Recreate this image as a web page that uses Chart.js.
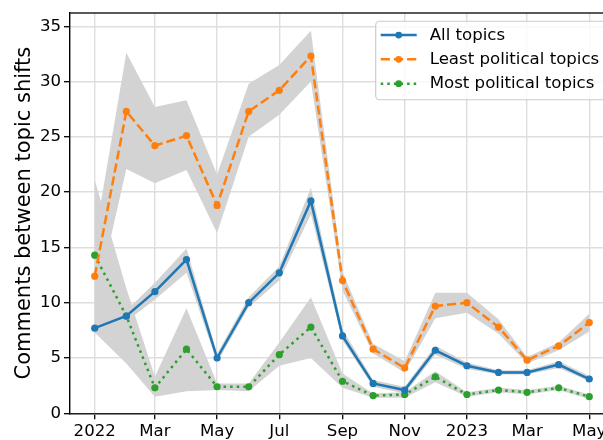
<!DOCTYPE html>
<html>
<head>
<meta charset="utf-8">
<script src="https://cdn.jsdelivr.net/npm/chart.js@4/dist/chart.umd.min.js"></script>
<style>
  html, body { margin: 0; padding: 0; background: #fff; overflow: hidden; }
  /* plot runs past the right edge, like the original figure */
  #wrap { position: relative; width: 618px; height: 440px; }
</style>
</head>
<body>
<div id="wrap"><canvas id="chart"></canvas></div>
<script>
// Months (first day of each month)
const months = ['2022-01', '2022-02', '2022-03', '2022-04', '2022-05', '2022-06', '2022-07', '2022-08',
    '2022-09', '2022-10', '2022-11', '2022-12', '2023-01', '2023-02', '2023-03', '2023-04', '2023-05'];

// Tick labels
const xTickMonths = ['2022-01', '2022-03', '2022-05', '2022-07', '2022-09', '2022-11', '2023-01', '2023-03', '2023-05'];
const xTickLabels = ['2022', 'Mar', 'May', 'Jul', 'Sep', 'Nov', '2023', 'Mar', 'May'];
const yTicks = [0, 5, 10, 15, 20, 25, 30, 35];

// Series names
const seriesNames = ['All topics', 'Least political topics', 'Most political topics'];

// All topics
const allTopics = [7.7, 8.8, 11.0, 13.9, 5.0, 10.0, 12.7, 19.2, 7.0, 2.7, 2.1, 5.7, 4.3, 3.7, 3.7, 4.4, 3.1];
const allLow = [7.2, 8.3, 10.3, 12.7, 4.6, 9.6, 12.0, 18.0, 6.6, 2.4, 1.8, 5.3, 4.0, 3.5, 3.5, 4.1, 2.9];
const allHigh = [8.2, 9.3, 11.8, 14.9, 5.4, 10.5, 13.3, 20.4, 7.6, 3.0, 2.4, 6.1, 4.6, 3.9, 3.9, 4.7, 3.4];

// Least political topics
const leastTopics = [12.4, 27.3, 24.2, 25.1, 18.8, 27.3, 29.2, 32.3, 12.0, 5.8, 4.1, 9.7, 10.0, 7.8, 4.8, 6.1, 8.2];
const leastLow = [9.5, 22.1, 20.8, 22.0, 16.3, 25.0, 27.0, 30.0, 11.1, 5.4, 3.7, 8.6, 9.1, 7.2, 4.5, 5.7, 7.4];
const leastHigh = [15.8, 32.6, 27.7, 28.3, 21.6, 29.8, 31.5, 34.6, 12.8, 6.3, 4.7, 10.9, 10.9, 8.5, 5.1, 6.4, 9.0];

// Most political topics
const mostTopics = [14.3, 8.8, 2.3, 5.8, 2.4, 2.4, 5.3, 7.8, 2.9, 1.6, 1.7, 3.3, 1.7, 2.1, 1.9, 2.3, 1.5];
const mostLow = [7.3, 4.5, 1.5, 2.0, 2.1, 2.0, 4.3, 5.0, 2.3, 1.4, 1.4, 2.8, 1.5, 1.9, 1.7, 2.1, 1.3];
const mostHigh = [21.1, 11.3, 3.3, 9.5, 2.7, 2.7, 6.4, 10.5, 3.6, 1.8, 1.9, 3.8, 1.9, 2.3, 2.1, 2.5, 1.7];

// Days since 2022-01-01, so months sit on a real time axis
function dayOf(m) {
    const [y, mo] = m.split('-').map(Number);
    return (Date.UTC(y, mo - 1, 1) - Date.UTC(2022, 0, 1)) / 86400000;
}
const xs = months.map(dayOf);
const xTickDays = xTickMonths.map(dayOf);
const pts = vals => vals.map((v, i) => ({ x: xs[i], y: v }));

const BAND = '#d3d3d3';
const FONT = 'DejaVu Sans';

function lineSet(label, vals, color, dash, order) {
    return {
        label: label,
        data: pts(vals),
        borderColor: color,
        backgroundColor: color,
        borderWidth: 2.5,
        borderDash: dash,
        pointRadius: 3.6,
        pointBorderWidth: 0,
        pointBackgroundColor: color,
        fill: false,
        order: order
    };
}

function bandSet(vals, fill) {
    return {
        label: '',
        data: pts(vals),
        borderWidth: 0,
        borderColor: 'rgba(0,0,0,0)',
        backgroundColor: BAND,
        pointRadius: 0,
        fill: fill,
        order: 5
    };
}

// Top spine and legend box
const frameAndLegend = {
    id: 'frameAndLegend',
    afterDraw(chart) {
        const { ctx, chartArea } = chart;
        ctx.save();
        // top spine
        ctx.beginPath();
        ctx.moveTo(chartArea.left, chartArea.top);
        ctx.lineTo(chartArea.right, chartArea.top);
        ctx.strokeStyle = '#222';
        ctx.lineWidth = 1.4;
        ctx.stroke();

        // legend
        const right = chartArea.right - 8.3;
        const top = chartArea.top + 8.3;
        const left = right - 230;
        const bottom = top + 78.5;
        const r = 4;
        ctx.beginPath();
        ctx.moveTo(left + r, top);
        ctx.arcTo(right, top, right, bottom, r);
        ctx.arcTo(right, bottom, left, bottom, r);
        ctx.arcTo(left, bottom, left, top, r);
        ctx.arcTo(left, top, right, top, r);
        ctx.closePath();
        ctx.fillStyle = 'rgba(255,255,255,0.8)';
        ctx.fill();
        ctx.strokeStyle = '#cccccc';
        ctx.lineWidth = 1.2;
        ctx.stroke();

        ctx.font = '16.6px "' + FONT + '"';
        ctx.textBaseline = 'middle';
        ctx.textAlign = 'left';
        seriesNames.forEach((name, i) => {
            const ds = chart.data.datasets[i];
            const y = top + 13.8 + i * 24.3;
            ctx.beginPath();
            ctx.setLineDash(ds.borderDash || []);
            ctx.moveTo(left + 5, y);
            ctx.lineTo(left + 41, y);
            ctx.strokeStyle = ds.borderColor;
            ctx.lineWidth = 2.5;
            ctx.stroke();
            ctx.setLineDash([]);
            ctx.beginPath();
            ctx.arc(left + 23, y, 3.4, 0, Math.PI * 2);
            ctx.fillStyle = ds.borderColor;
            ctx.fill();
            ctx.fillStyle = '#000';
            ctx.fillText(name, left + 54, y + 0.5);
        });
        ctx.restore();
    }
};

Chart.defaults.font.family = FONT;
Chart.defaults.color = '#000';

new Chart(document.getElementById('chart'), {
    type: 'line',
    data: {
        datasets: [
            lineSet(seriesNames[0], allTopics, '#1f77b4', [], 0),
            lineSet(seriesNames[1], leastTopics, '#ff7f0e', [9.2, 4], 1),
            lineSet(seriesNames[2], mostTopics, '#2ca02c', [2.5, 4.1], 2),
            bandSet(allHigh, '+1'),
            bandSet(allLow, false),
            bandSet(leastHigh, '+1'),
            bandSet(leastLow, false),
            bandSet(mostHigh, '+1'),
            bandSet(mostLow, false)
        ]
    },
    options: {
        responsive: true,
        maintainAspectRatio: false,
        animation: false,
        layout: { padding: { top: 10.7, right: 2, left: 0, bottom: 0 } },
        plugins: {
            legend: { display: false },
            tooltip: { enabled: false }
        },
        scales: {
            x: {
                type: 'linear',
                min: -24.25,
                max: 509.25,
                afterBuildTicks: scale => { scale.ticks = xTickDays.map(v => ({ value: v })); },
                afterFit: scale => { scale.height = 26.7; },
                ticks: {
                    autoSkip: false,
                    maxRotation: 0,
                    padding: 2,
                    font: { size: 16.6 },
                    callback: (v, i) => xTickLabels[i]
                },
                grid: {
                    color: '#dedede',
                    lineWidth: 1.4,
                    tickColor: '#000',
                    tickLength: 6,
                    tickWidth: 1.3
                },
                border: { color: '#222', width: 1.4 }
            },
            y: {
                type: 'linear',
                min: 0,
                max: 36.2,
                afterBuildTicks: scale => { scale.ticks = yTicks.map(v => ({ value: v })); },
                afterFit: scale => { scale.width = 70; },
                ticks: {
                    padding: 3,
                    font: { size: 16.6 }
                },
                grid: {
                    color: '#dedede',
                    lineWidth: 1.4,
                    tickColor: '#000',
                    tickLength: 6,
                    tickWidth: 1.3
                },
                border: { color: '#000', width: 1.4 },
                title: {
                    display: true,
                    text: 'Comments between topic shifts',
                    font: { size: 21 },
                    padding: { top: 12, bottom: 0 }
                }
            }
        }
    },
    plugins: [frameAndLegend]
});
</script>
</body>
</html>
